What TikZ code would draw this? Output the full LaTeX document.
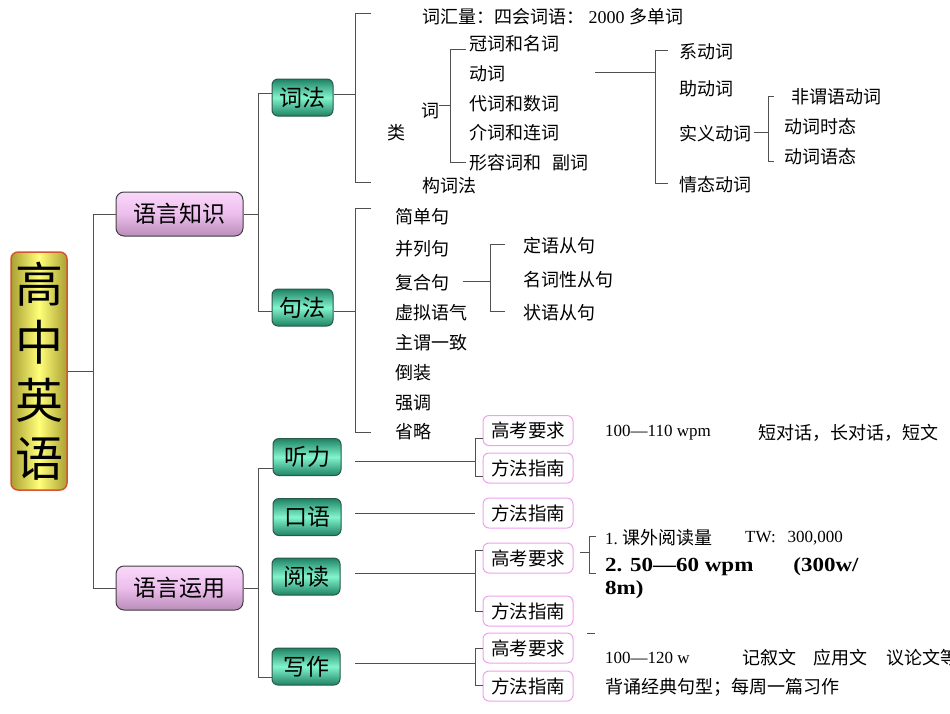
\documentclass[tikz,border=0pt]{standalone}
\usepackage{fontspec}
\setmainfont{Noto Sans CJK SC}
\newfontfamily\lat{Liberation Serif}
\newfontfamily\latb[FakeStretch=1.15]{Liberation Serif}
\definecolor{connc}{RGB}{80,80,80}
\definecolor{rootedge}{RGB}{214,84,50}
\definecolor{rootdark}{RGB}{170,160,50}
\definecolor{rootlight}{RGB}{255,255,120}
\definecolor{purtop}{RGB}{250,215,250}
\definecolor{purmid}{RGB}{236,190,236}
\definecolor{purbot}{RGB}{185,140,185}
\definecolor{grdark}{RGB}{30,130,100}
\definecolor{grlight}{RGB}{130,245,205}
\definecolor{gredge}{RGB}{40,90,70}
\definecolor{pinkedge}{RGB}{238,160,238}
\tikzset{
  conn/.style={draw=connc, line width=1pt},
  it/.style={anchor=west, inner sep=0pt, font=\fontsize{18}{18}\selectfont},
  latit/.style={anchor=west, inner sep=0pt, font=\lat\fontsize{17}{17}\selectfont},
  rootbox/.style={rounded corners=7pt, draw=rootedge, line width=1.5pt,
    left color=rootdark, right color=rootdark, middle color=rootlight,
    minimum width=56pt, minimum height=238pt, inner sep=0pt, align=center,
    font=\fontsize{48}{58}\selectfont},
  pbox/.style={rounded corners=8pt, draw=black!75, line width=1pt,
    top color=purtop, bottom color=purbot, middle color=purmid,
    minimum width=127pt, minimum height=44pt, inner sep=0pt,
    font=\fontsize{23}{23}\selectfont},
  gbox/.style={rounded corners=6pt, draw=gredge, line width=1pt,
    top color=grdark, bottom color=grdark, middle color=grlight,
    minimum width=#1, minimum height=37pt, inner sep=0pt,
    font=\fontsize{23}{23}\selectfont},
  gbox/.default=61pt,
  kbox/.style={rounded corners=6pt, draw=pinkedge, line width=1pt, fill=white,
    minimum width=90pt, minimum height=30pt, inner sep=0pt,
    font=\fontsize{18.5}{18.5}\selectfont}
}
\begin{document}
\begin{tikzpicture}[x=1pt,y=-1pt]
\useasboundingbox (0,0) rectangle (950,713);
\clip (0,0) rectangle (950,713);

% ---------- main boxes ----------
\node[rootbox] (root) at (39,371) {高\\中\\英\\语};
\node[pbox] (lk) at (179.5,214) {语言知识};
\node[pbox] (ly) at (179.5,588) {语言运用};
\node[gbox] (cf) at (302.5,97.5) {词法};
\node[gbox] (jf) at (302.5,307.5) {句法};
\node[gbox=68pt] (tl) at (307,457) {听力};
\node[gbox=68pt] (ky) at (307,517) {口语};
\node[gbox=68pt] (yd) at (306,576.5) {阅读};
\node[gbox=68pt] (xz) at (306,666.5) {写作};

% ---------- level 1 connectors ----------
\coordinate (j0) at (93,371);
\coordinate (j0a) at (93,214);
\coordinate (j0b) at (93,588);
\draw[conn] (root.east) -- (j0);
\draw[conn] (lk.west) -- (j0a) -- (j0b) -- (ly.west);

\coordinate (c1a) at (258,93);
\coordinate (c1b) at (258,311);
\draw[conn] (lk.east) -- (lk.east -| c1a);
\draw[conn] (cf.west |- c1a) -- (c1a) -- (c1b) -- (jf.west |- c1b);

\coordinate (c2a) at (258,468);
\coordinate (c2b) at (258,677);
\draw[conn] (ly.east) -- (ly.east -| c2a);
\draw[conn] (tl.west |- c2a) -- (c2a) -- (c2b) -- (xz.west |- c2b);

% ---------- 词法 ----------
\coordinate (w0) at (355,94);
\coordinate (wt) at (355,13);
\coordinate (wb) at (355,182);
\coordinate (wte) at (371,13);
\coordinate (wbe) at (371,182);
\draw[conn] (cf.east |- w0) -- (w0);
\draw[conn] (wte) -- (wt) -- (wb) -- (wbe);

\node[it] (vocab) at (422,17) {词汇量：四会词语：{\lat\ 2000 }多单词};
\node[it] (lei) at (387,133) {类};
\node[it] (ci) at (421,111) {词};
\node[it] (n1) at (469,44) {冠词和名词};
\node[it] (n2) at (469,74) {动词};
\node[it] (n3) at (469,104) {代词和数词};
\node[it] (n4) at (469,133) {介词和连词};
\node[it] (n5) at (469,163) {形容词和\hspace{11pt}副词};
\node[it] (gcf) at (422,186) {构词法};

\coordinate (cj) at (450,105);
\coordinate (cjt) at (450,49);
\coordinate (cjb) at (450,162);
\coordinate (cjte) at (466,49);
\coordinate (cjbe) at (466,162);
\draw[conn] (ci.east |- cj) -- (cj);
\draw[conn] (cjte) -- (cjt) -- (cjb) -- (cjbe);

% verbs
\coordinate (vs) at (595,72);
\coordinate (vj) at (655,72);
\coordinate (vt) at (655,50);
\coordinate (vb) at (655,183);
\coordinate (vte) at (668,50);
\coordinate (vbe) at (668,183);
\draw[conn] (vs) -- (vj);
\draw[conn] (vte) -- (vt) -- (vb) -- (vbe);
\node[it] (v1) at (679,52) {系动词};
\node[it] (v2) at (679,89) {助动词};
\node[it] (v3) at (679,134) {实义动词};
\node[it] (v4) at (679,185) {情态动词};

\coordinate (sj) at (768,132);
\coordinate (st) at (768,96);
\coordinate (sb) at (768,161);
\coordinate (ste) at (774,96);
\coordinate (sbe) at (774,161);
\draw[conn] (v3.east |- sj) ++(3,0) -- (sj);
\draw[conn] (ste) -- (st) -- (sb) -- (sbe);
\node[it] (s1) at (791,97) {非谓语动词};
\node[it] (s2) at (784,127) {动词时态};
\node[it] (s3) at (784,157) {动词语态};

% ---------- 句法 ----------
\coordinate (j1) at (355,311);
\coordinate (j1t) at (355,208);
\coordinate (j1b) at (355,432);
\coordinate (j1te) at (371,208);
\coordinate (j1be) at (371,432);
\draw[conn] (jf.east |- j1) -- (j1);
\draw[conn] (j1te) -- (j1t) -- (j1b) -- (j1be);
\node[it] (k1) at (395,217) {简单句};
\node[it] (k2) at (395,249) {并列句};
\node[it] (k3) at (395,283) {复合句};
\node[it] (k4) at (395,313) {虚拟语气};
\node[it] (k5) at (395,343) {主谓一致};
\node[it] (k6) at (395,373) {倒装};
\node[it] (k7) at (395,403) {强调};
\node[it] (k8) at (395,432) {省略};

\coordinate (fj) at (490,281);
\coordinate (fjt) at (490,244);
\coordinate (fjb) at (490,311);
\coordinate (fjte) at (505,244);
\coordinate (fjbe) at (505,311);
\draw[conn] (k3.east |- fj) ++(14,0) -- (fj);
\draw[conn] (fjte) -- (fjt) -- (fjb) -- (fjbe);
\node[it] (f1) at (523,246) {定语从句};
\node[it] (f2) at (523,280) {名词性从句};
\node[it] (f3) at (523,313) {状语从句};

% ---------- 语言运用 sub boxes ----------
\node[kbox] (tlg) at (528,430.5) {高考要求};
\node[kbox] (tlf) at (528,468) {方法指南};
\node[kbox] (kyf) at (528,513) {方法指南};
\node[kbox] (ydg) at (528,558) {高考要求};
\node[kbox] (ydf) at (528,611) {方法指南};
\node[kbox] (xzg) at (528,648) {高考要求};
\node[kbox] (xzf) at (528,686) {方法指南};

% 听力
\coordinate (t0) at (355,461);
\coordinate (t1) at (475,461);
\coordinate (t1t) at (475,438);
\coordinate (t1b) at (475,476);
\draw[conn] (t0) -- (t1);
\draw[conn] (tlg.west |- t1t) -- (t1t) -- (t1b) -- (tlf.west |- t1b);
% 口语
\coordinate (o0) at (355,513);
\coordinate (o1) at (475,513);
\draw[conn] (o0) -- (o1);
% 阅读
\coordinate (r0) at (355,573);
\coordinate (r1) at (475,573);
\coordinate (r1t) at (475,550);
\coordinate (r1b) at (475,611);
\draw[conn] (r0) -- (r1);
\draw[conn] (ydg.west |- r1t) -- (r1t) -- (r1b) -- (ydf.west |- r1b);
% 写作
\coordinate (x0) at (355,663);
\coordinate (x1) at (475,663);
\coordinate (x1t) at (475,648);
\coordinate (x1b) at (475,685);
\draw[conn] (x0) -- (x1);
\draw[conn] (xzg.west |- x1t) -- (x1t) -- (x1b) -- (xzf.west |- x1b);

% ---------- right texts ----------
\node[latit] (tr1) at (605,433) {100—110 wpm};
\node[it] (tr2) at (758,433) {短对话，长对话，短文};

\coordinate (rb0) at (580,552);
\coordinate (rbj) at (589,552);
\coordinate (rbt) at (589,536);
\coordinate (rbb) at (589,573);
\coordinate (rbte) at (596,536);
\coordinate (rbbe) at (596,573);
\draw[conn] (rb0) -- (rbj);
\draw[conn] (rbte) -- (rbt) -- (rbb) -- (rbbe);
\node[it] (rr1) at (605,538) {{\lat\fontsize{17}{17}\selectfont 1.}\hspace{5pt}课外阅读量};
\node[latit] (rr2) at (745,538) {TW:\hspace{12pt}300,000};
\node[anchor=west, inner sep=0pt, align=left, font=\latb\bfseries\fontsize{20}{23}\selectfont] (rr3) at (605,578) {2. 50—60 wpm\hspace{40pt}(300w/\\8m)};

\coordinate (dsh0) at (587,633);
\coordinate (dsh1) at (595,633);
\draw[conn] (dsh0) -- (dsh1);

\node[latit] (wr1) at (605,658) {100—120 w};
\node[it] (wr2) at (742,658) {记叙文};
\node[it] (wr3) at (813,658) {应用文};
\node[it] (wr4) at (886,658) {议论文等};
\node[it] (wr5) at (605,687) {背诵经典句型；每周一篇习作};
\end{tikzpicture}
\end{document}
